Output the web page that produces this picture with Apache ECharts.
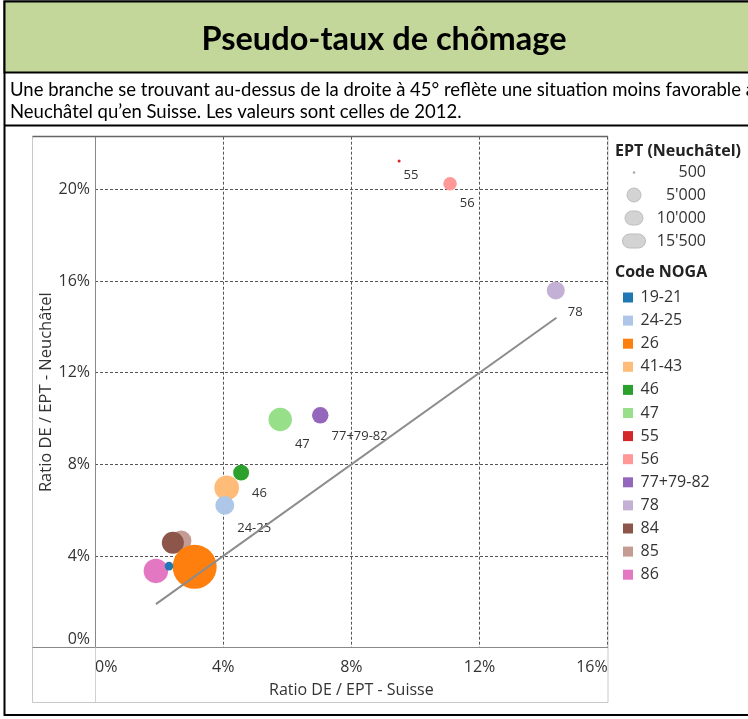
<!DOCTYPE html>
<html><head><meta charset="utf-8">
<script src="https://cdn.jsdelivr.net/npm/echarts@6/dist/echarts.min.js"></script>
<style>html,body{margin:0;padding:0;background:#fff;overflow:hidden}#c{width:748px;height:719px}</style>
</head><body><div id="c"></div>
<script>
// ---- data ----
const categories = ['19-21','24-25','26','41-43','46','47','55','56','77+79-82','78','84','85','86'];
const ratioSuisse = [2.31, 4.05, 3.11, 4.11, 4.56, 5.78, 9.49, 11.08, 7.03, 14.38, 2.43, 2.69, 1.90];
const ratioNeuchatel = [3.56, 6.21, 3.53, 6.98, 7.64, 9.96, 21.24, 20.25, 10.14, 15.59, 4.58, 4.67, 3.35];
const eptNeuchatel = [1000, 3200, 15500, 5200, 2400, 4700, 500, 1850, 2550, 2950, 4200, 3700, 5100];
const labelledCodes = ['24-25','46','47','55','56','77+79-82','78'];
const drawOrder = ['41-43','24-25','46','47','77+79-82','55','56','78','85','84','86','26','19-21'];
const diagonalEnds = [1.9, 14.4];
const sizeLegendValues = [500, 5000, 10000, 15500];
const sizeLegendLabels = ["500", "5'000", "10'000", "15'500"];

// ---- styles ----
const colors = ['#1f77b4','#aec7e8','#ff7f0e','#ffbb78','#2ca02c','#98df8a','#d62728','#ff9896','#9467bd','#c5b0d5','#8c564b','#c49c94','#e377c2'];
const FONT = "'Open Sans', 'Noto Sans', sans-serif";
const TFONT = "Lato, 'Open Sans', sans-serif";
function markSize(ept) { return Math.sqrt(9 + 0.1285 * (ept - 500)); }

const chart = echarts.init(document.getElementById('c'), null, {renderer: 'canvas'});

const scatterSeries = drawOrder.map(function (code) {
  const i = categories.indexOf(code);
  const d = markSize(eptNeuchatel[i]);
  const showLabel = labelledCodes.indexOf(code) >= 0;
  return {
    name: code,
    type: 'scatter',
    data: [[ratioSuisse[i], ratioNeuchatel[i], eptNeuchatel[i]]],
    symbol: 'circle',
    symbolSize: function (v) { return markSize(v[2]); },
    itemStyle: {color: colors[i], opacity: 1},
    label: {
      show: showLabel,
      formatter: code,
      position: [d + 3, d + 13],
      align: 'left', verticalAlign: 'middle',
      fontFamily: FONT, fontSize: 13, color: '#333'
    },
    emphasis: {disabled: true},
    z: 2
  };
});

const graphics = [
  // outer frame & header boxes
  {type: 'rect', shape: {x: 4.5, y: 1.5, width: 760, height: 713.5}, style: {fill: '#fff', stroke: '#000', lineWidth: 2}, z: -10, silent: true},
  {type: 'rect', shape: {x: 4.5, y: 1.5, width: 760, height: 71}, style: {fill: '#c4d79b', stroke: '#000', lineWidth: 2}, z: -9, silent: true},
  {type: 'line', shape: {x1: 4.5, y1: 125.5, x2: 760, y2: 125.5}, style: {stroke: '#000', lineWidth: 2}, z: -9, silent: true},
  // chart panel
  {type: 'rect', shape: {x: 32.5, y: 136.5, width: 575.5, height: 566}, style: {fill: 'none', stroke: '#c8c8c8', lineWidth: 1}, z: -8, silent: true},
  {type: 'line', shape: {x1: 32.5, y1: 136.5, x2: 608, y2: 136.5}, style: {stroke: '#666', lineWidth: 1.5}, z: 5, silent: true},
  {type: 'line', shape: {x1: 32.5, y1: 647.5, x2: 95, y2: 647.5}, style: {stroke: '#888', lineWidth: 1}, z: 5, silent: true},
  {type: 'line', shape: {x1: 95.5, y1: 647.5, x2: 95.5, y2: 702.5}, style: {stroke: '#d0d0d0', lineWidth: 1}, z: 5, silent: true},
  // title texts
  {type: 'text', x: 384, y: 40, style: {text: 'Pseudo-taux de chômage', font: 'bold 32.5px ' + TFONT, fill: '#000', align: 'center', verticalAlign: 'middle'}, silent: true},
  {type: 'text', x: 10, y: 90, style: {text: 'Une branche se trouvant au-dessus de la droite à 45° reflète une situation moins favorable à', font: '18.5px ' + TFONT, fill: '#000', align: 'left', verticalAlign: 'middle'}, silent: true},
  {type: 'text', x: 10, y: 112, style: {text: 'Neuchâtel qu’en Suisse. Les valeurs sont celles de 2012.', font: '18.5px ' + TFONT, fill: '#000', align: 'left', verticalAlign: 'middle'}, silent: true},
  // legend titles
  {type: 'text', x: 615, y: 151, style: {text: 'EPT (Neuchâtel)', font: 'bold 16px ' + FONT, fill: '#222', align: 'left', verticalAlign: 'middle'}, silent: true},
  {type: 'text', x: 615, y: 272.5, style: {text: 'Code NOGA', font: 'bold 16px ' + FONT, fill: '#222', align: 'left', verticalAlign: 'middle'}, silent: true}
];
// size legend
const sizeRowsY = [172.5, 195, 218, 241];
const sizeShapeW = [2.5, 14, 18, 23];
sizeLegendValues.forEach(function (v, k) {
  const w = sizeShapeW[k];
  const h = Math.min(w, 14);
  graphics.push({type: 'rect', shape: {x: 634 - w / 2, y: sizeRowsY[k] - h / 2, width: w, height: h, r: h / 2},
    style: {fill: k === 0 ? '#aaa' : '#d3d3d3', stroke: k === 0 ? null : '#bdbdbd', lineWidth: 1}, silent: true});
  graphics.push({type: 'text', x: 706, y: sizeRowsY[k], style: {text: sizeLegendLabels[k], font: '16px ' + FONT, fill: '#333', align: 'right', verticalAlign: 'middle'}, silent: true});
});

chart.setOption({
  animation: false,
  backgroundColor: '#fff',
  grid: {left: 95, right: 140.3, top: 136.7, bottom: 71.3, containLabel: false},
  xAxis: {
    type: 'value', min: 0, max: 16, interval: 4,
    name: 'Ratio DE / EPT - Suisse', nameLocation: 'middle', nameGap: 35, nameMoveOverlap: false,
    nameTextStyle: {fontFamily: FONT, fontSize: 16, color: '#333'},
    axisLine: {show: true, onZero: false, lineStyle: {color: '#888', width: 1}},
    axisTick: {show: false},
    axisLabel: {formatter: '{value}%', fontFamily: FONT, fontSize: 16, color: '#333', margin: 12, alignMinLabel: 'left', alignMaxLabel: 'right'},
    splitLine: {show: true, lineStyle: {color: '#555', type: [3, 2], width: 1}}
  },
  yAxis: {
    type: 'value', min: 0, max: 22.3, interval: 4,
    name: 'Ratio DE / EPT - Neuchâtel', nameLocation: 'middle', nameGap: 40, nameMoveOverlap: false,
    nameTextStyle: {fontFamily: FONT, fontSize: 16.5, color: '#333'},
    axisLine: {show: true, onZero: false, lineStyle: {color: '#888', width: 1}},
    axisTick: {show: false},
    axisLabel: {formatter: '{value}%', fontFamily: FONT, fontSize: 16, color: '#333', margin: 5, showMaxLabel: false, verticalAlignMinLabel: 'bottom'},
    splitLine: {show: true, showMinLine: false, showMaxLine: false, lineStyle: {color: '#555', type: [3, 2], width: 1}}
  },
  legend: {
    data: categories,
    orient: 'vertical', left: 618, top: 284.5,
    itemWidth: 15, itemHeight: 10, itemGap: 7.1,
    icon: 'path://M0,0H10V10H0Z',
    selectedMode: false,
    textStyle: {fontFamily: FONT, fontSize: 16, color: '#333', lineHeight: 16}
  },
  graphic: graphics,
  series: scatterSeries.concat([{
    name: 'diagonale', type: 'line',
    data: [[diagonalEnds[0], diagonalEnds[0]], [diagonalEnds[1], diagonalEnds[1]]],
    symbol: 'none', lineStyle: {color: '#8c8c8c', width: 2}, z: 4, silent: true
  }])
});
</script></body></html>
